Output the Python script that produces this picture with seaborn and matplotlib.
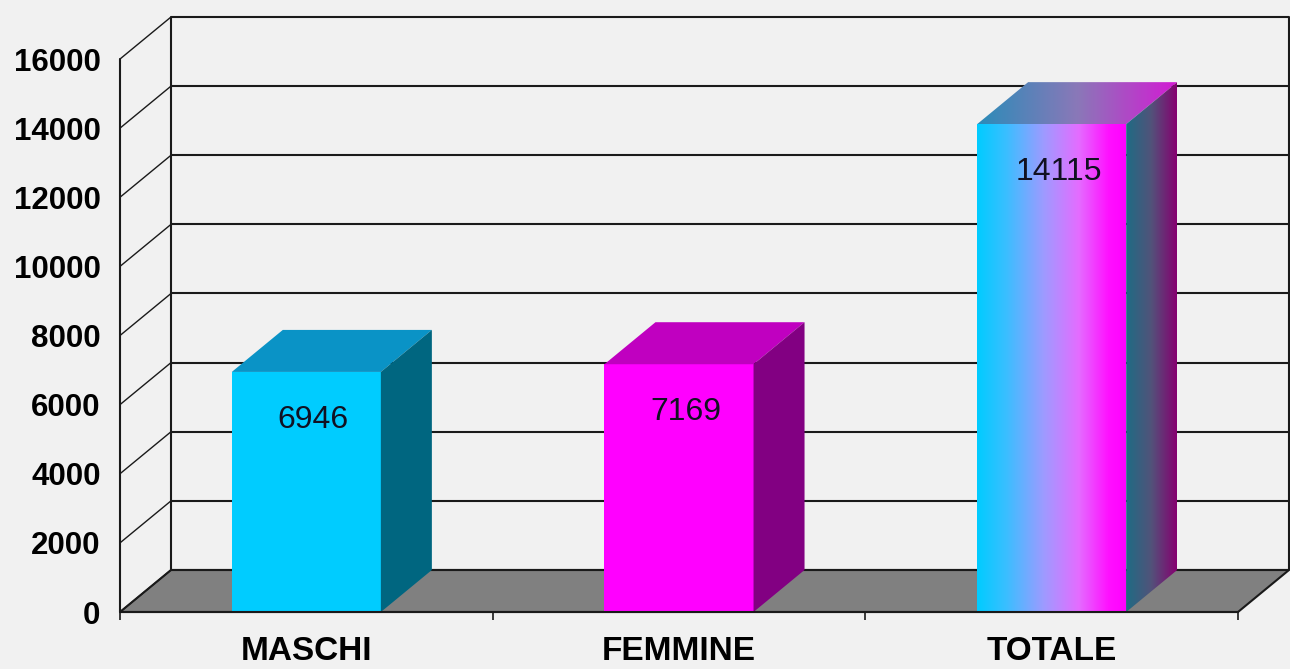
import numpy as np
import matplotlib
matplotlib.use("Agg")
import matplotlib.pyplot as plt
import seaborn as sns
from matplotlib.patches import Polygon
from matplotlib.colors import LinearSegmentedColormap

# ---- data ----
categories = ["MASCHI", "FEMMINE", "TOTALE"]
values = [6946, 7169, 14115]
value_labels = ["6946", "7169", "14115"]
y_ticks = [0, 2000, 4000, 6000, 8000, 10000, 12000, 14000, 16000]
y_tick_labels = ["0", "2000", "4000", "6000", "8000", "10000", "12000", "14000", "16000"]

# ---- style ----
front_colors = ["#00ccff", "#ff00ff", "#b0a0ff"]
top_colors = ["#0a93c6", "#c000c0", None]
side_colors = ["#006680", "#820082", None]

grad_front = LinearSegmentedColormap.from_list(
    "gf", [(0.0, "#00ccff"), (0.2, "#3cbeff"), (0.45, "#a09aff"),
           (0.68, "#e46cff"), (0.88, "#ff10ff"), (1.0, "#ff00ff")])
grad_side = LinearSegmentedColormap.from_list(
    "gs", [(0.0, "#1e6c84"), (0.5, "#52527a"), (1.0, "#860070")])
grad_top = LinearSegmentedColormap.from_list(
    "gt", [(0.0, "#2a8cb8"), (0.5, "#8a78b8"), (1.0, "#d41ad4")])

sns.set_theme(style="white")
plt.rcParams["font.family"] = ["Liberation Sans", "DejaVu Sans"]

W, H = 1290, 669
bg = "#f1f1f1"
fig = plt.figure(figsize=(W / 100, H / 100), dpi=100)
fig.patch.set_facecolor(bg)

px_left, px_right = 120, 1238
px_floor, px_top = 612, 17
dx_px, dy_px = 51, 42
cat_px = (px_right - px_left) / 3.0
dx = dx_px / cat_px
ymax = 16000
unit_per_px = 2000 / 69.1
dy = dy_px * unit_per_px
ytop = ymax + dy

ax = fig.add_axes([px_left / W, (H - px_floor) / H,
                   (px_right - px_left + dx_px) / W, (px_floor - px_top) / H])
ax.set_facecolor("none")

sns.barplot(x=categories, y=values, hue=categories, palette=front_colors,
            width=0.4, saturation=1, legend=False, ax=ax, zorder=3,
            edgecolor="none", linewidth=0)
bars = sorted(list(ax.patches), key=lambda p: p.get_x())

x0, x1 = -0.5, 2.5
lc = "#1a1a1a"
lw = 1.5

# floor
ax.add_patch(Polygon([(x0, 0), (x1, 0), (x1 + dx, dy), (x0 + dx, dy)], closed=True,
                     facecolor="#808080", edgecolor=lc, lw=lw, zorder=1, clip_on=False))
# back wall gridlines and side wall lines
for v in y_ticks:
    ax.plot([x0 + dx, x1 + dx], [v + dy, v + dy], color=lc, lw=lw, zorder=1.5,
            clip_on=False, solid_capstyle="butt")
    ax.plot([x0, x0 + dx], [v, v + dy], color=lc, lw=1.0, zorder=1.5, clip_on=False)
ax.plot([x0 + dx, x0 + dx], [dy, ymax + dy], color=lc, lw=lw, zorder=1.5, clip_on=False)
ax.plot([x1 + dx, x1 + dx], [dy, ymax + dy], color=lc, lw=lw, zorder=1.5, clip_on=False)
ax.plot([x0, x0], [0, ymax], color=lc, lw=lw, zorder=4, clip_on=False)
ax.plot([x0, x1], [0, 0], color=lc, lw=lw, zorder=4, clip_on=False)


def grad_fill(verts, cmap, zorder):
    poly = Polygon(verts, closed=True, facecolor="none", edgecolor="none", zorder=zorder)
    ax.add_patch(poly)
    xs = [v[0] for v in verts]
    ys = [v[1] for v in verts]
    img = ax.imshow(np.linspace(0, 1, 256).reshape(1, -1), cmap=cmap,
                    extent=(min(xs), max(xs), min(ys), max(ys)), aspect="auto",
                    origin="lower", zorder=zorder, interpolation="bilinear")
    img.set_clip_path(poly)


for p in bars:
    x, w, h = p.get_x(), p.get_width(), p.get_height()
    i = int(round(x + w / 2))
    top = [(x, h), (x + w, h), (x + w + dx, h + dy), (x + dx, h + dy)]
    side = [(x + w, 0), (x + w + dx, dy), (x + w + dx, h + dy), (x + w, h)]
    if top_colors[i] is not None:
        ax.add_patch(Polygon(top, closed=True, facecolor=top_colors[i], edgecolor="none", zorder=3))
        ax.add_patch(Polygon(side, closed=True, facecolor=side_colors[i], edgecolor="none", zorder=3))
    else:
        p.set_facecolor("none")
        grad_fill([(x, 0), (x + w, 0), (x + w, h), (x, h)], grad_front, 3)
        grad_fill(top, grad_top, 3)
        grad_fill(side, grad_side, 3)
    ax.annotate(value_labels[i], xy=(x + w / 2, h), xytext=(7 * 0.72, -48 * 0.72),
                textcoords="offset points", ha="center", va="center",
                fontsize=23, color="#111122", zorder=5)

for s in ax.spines.values():
    s.set_visible(False)
ax.grid(False)

ax.set_yticks(y_ticks)
ax.set_yticklabels(y_tick_labels, fontweight="bold", fontsize=22.5)
ax.tick_params(axis="y", length=0, pad=14, colors="#000000")
ax.set_xticks([0, 1, 2])
ax.set_xticklabels(categories, fontweight="bold", fontsize=24)
ax.set_xticks([-0.5, 0.5, 1.5, 2.5], minor=True)
ax.tick_params(axis="x", which="major", length=0, pad=17, colors="#000000")
ax.tick_params(axis="x", which="minor", length=6, width=1.2, color=lc,
               direction="out", bottom=True)
ax.set_xlabel("")
ax.set_ylabel("")
ax.set_xlim(x0, x1 + dx)
ax.set_ylim(0, ytop)

fig.savefig("out.png", dpi=100, facecolor=bg)
